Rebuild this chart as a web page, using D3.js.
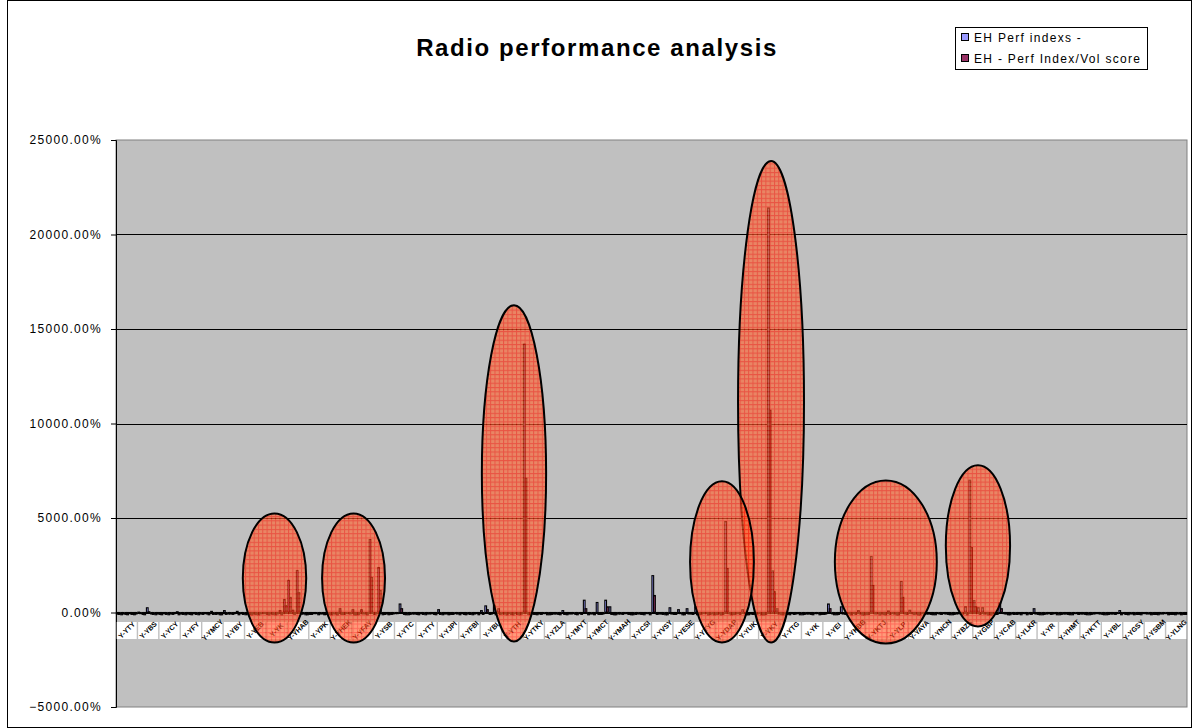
<!DOCTYPE html>
<html>
<head>
<meta charset="utf-8">
<script src="https://cdn.jsdelivr.net/npm/d3@7"></script>
<style>
  body { margin: 0; background: #ffffff; }
  svg { display: block; }
</style>
</head>
<body>
<svg id="chart" width="1194" height="728"></svg>
<script>
// ---- Data -------------------------------------------------------------
const seriesNames = ["EH Perf indexs -", "EH - Perf Index/Vol score"];

// 250 stations along the x axis; every fifth one carries a label
const categories = d3.range(250);

const tickLabels = [
  "Y-YTY","Y-YBS","Y-YCY","Y-YFY","Y-YMCY","Y-YBY","Y-YEB","Y-YK","Y-YHAB","Y-YPK",
  "Y-YHEK","Y-YFAY","Y-YSB","Y-YTC","Y-YTY","Y-YJPI","Y-YFBI","Y-YBI","Y-YTH","Y-YTKY",
  "Y-YZLA","Y-YMYT","Y-YMCT","Y-YMAH","Y-YCSI","Y-YVSY","Y-YESE","Y-YTYG","Y-YDAP","Y-YUK",
  "Y-YKY","Y-YTG","Y-YK","Y-YEI","Y-YKBB","Y-YKTJ","Y-YLP","Y-YAYA","Y-YNCN","Y-YBZS",
  "Y-YGBP","Y-YCAB","Y-YLKR","Y-YR","Y-YHMT","Y-YKTT","Y-YBL","Y-YGSY","Y-YSBM","Y-YLNG"
];

// EH Perf indexs (%)
const perfIndex = [
  -80,-120,-100,-60,-120,20,-100,250,-80,-120,
  -100,-60,-120,-100,40,-80,-120,-100,-60,-120,
  -100,-80,60,-100,-120,100,-80,-100,60,-60,
  -120,-100,-80,-120,-60,-100,-80,-120,100,690,
  1700,120,2220,-80,-120,-100,-60,-120,-80,-100,
  -120,-80,200,-100,-60,150,-120,150,-80,3860,
  -100,2380,-120,-80,-100,-60,450,-100,-120,-80,
  -100,-60,-120,-80,-100,150,-120,-80,-100,-60,
  -120,-100,-80,-120,-60,100,350,-100,380,200,
  -80,-120,-100,-60,-120,14200,-100,-80,-120,-100,
  -60,-120,-80,-100,100,-120,-80,-100,-60,650,
  -120,-80,530,-100,650,300,-120,-80,-100,-60,
  -120,-100,-80,-120,-60,1950,-100,-80,-120,250,
  -100,150,-120,200,-80,300,-100,-60,-120,-80,
  -100,-120,4810,-80,-100,-60,150,-120,-80,-100,
  -60,-120,21400,2200,200,-100,-80,-120,-100,-60,
  -120,-80,-100,-60,-120,-100,450,-80,-120,300,
  -100,-80,-60,100,-120,-100,2960,-80,-120,-100,
  80,-60,-120,1640,-80,120,-100,-120,-60,-80,
  -100,-120,-80,-60,-100,-120,-80,-100,300,7000,
  630,250,250,-80,-120,-100,500,-60,-120,-80,
  -100,-120,-60,-80,200,-100,-120,-80,-100,-60,
  -120,-80,-100,-120,-60,-80,-100,-120,-80,-60,
  -100,-120,-80,-100,100,-60,-120,-80,-100,-120,
  -60,-80,-100,-120,-80,-60,-100,-120,-80,-100
];

// EH - Perf Index/Vol score (%)
const volScore = [
  -100,-80,-120,-100,-80,-60,-120,40,-100,-80,
  -120,-100,-80,-60,-120,-100,-80,-120,-100,-80,
  -60,-120,-100,-80,-120,-100,-80,-60,-120,-100,
  -80,-120,-100,-80,-60,-120,-100,-80,-120,370,
  800,-100,1060,-80,-120,-100,-60,-80,-120,-100,
  -80,-120,-100,-60,-80,-120,-100,-80,-120,1850,
  -80,1160,-100,-120,-80,-60,200,-120,-100,-80,
  -120,-100,-80,-60,-120,-100,-80,-120,-100,-80,
  -60,-120,-100,-80,-120,-100,150,-80,-120,-100,
  -80,-60,-120,-100,-80,7100,-120,-100,-80,-60,
  -120,-100,-80,-120,-100,-80,-60,-120,-100,200,
  -80,-120,-100,-80,300,-100,-120,-80,-60,-100,
  -120,-80,-100,-60,-120,900,-80,-100,-120,-80,
  -100,-60,-120,-80,-100,-120,-80,-60,-100,-120,
  -80,-100,2330,-120,-80,-100,-60,-120,-100,-80,
  -120,-100,10700,1100,-80,-120,-100,-60,-80,-120,
  -100,-80,-120,-60,-100,-80,200,-120,-100,-80,
  -60,-120,-100,-80,-120,-100,1430,-60,-80,-120,
  -100,-80,-120,800,-100,-60,-80,-120,-100,-80,
  -120,-60,-100,-80,-120,-100,-60,-80,-120,3440,
  300,-100,-80,-120,-60,-100,200,-80,-120,-100,
  -80,-60,-120,-100,-80,-120,-100,-60,-80,-120,
  -100,-80,-120,-60,-100,-80,-120,-100,-60,-80,
  -120,-100,-80,-60,-120,-100,-80,-120,-100,-60,
  -80,-120,-100,-80,-60,-120,-100,-80,-120,-100
];

const yTicks = [-5000, 0, 5000, 10000, 15000, 20000, 25000];

// Highlighted groups of stations: category span (start, end) and value span (low, high)
const ringFrom  = [29.6, 48.1, 85.4, 145.2, 134.0, 167.8, 193.7];
const ringTo    = [44.4, 62.8, 100.4, 160.6, 148.9, 191.6, 208.7];
const ringLow   = [-1590, -1590, -1540, -1590, -1590, -1640, -740];
const ringHigh  = [5240, 5240, 16260, 23890, 6940, 6990, 7790];

// ---- Layout -----------------------------------------------------------
const svg = d3.select("#chart");
const W = 1194, H = 728;
const plot = { left: 116, right: 1187, top: 140, bottom: 707 };

const x = d3.scaleBand()
  .domain(categories)
  .range([plot.left, plot.right])
  .paddingInner(0.2)
  .paddingOuter(0.1);
const sub = d3.scaleBand().domain([0, 1]).range([0, x.bandwidth()]);
// continuous position along the category axis (category index -> px)
const xPos = d3.scaleLinear().domain([0, categories.length]).range([plot.left, plot.right]);

const y = d3.scaleLinear().domain([-5000, 25000]).range([plot.bottom, plot.top]);

const colors = ["#9999ff", "#993366"];
const font = "'Liberation Sans', Arial, sans-serif";

// chart frame
svg.append("rect")
  .attr("x", 7.5).attr("y", 0.5).attr("width", W - 10).attr("height", H - 1)
  .attr("fill", "#ffffff").attr("stroke", "#000000").attr("stroke-width", 1);

// hatched fill for highlighted groups
const defs = svg.append("defs");
const pat = defs.append("pattern")
  .attr("id", "hatch").attr("patternUnits", "userSpaceOnUse")
  .attr("width", 4.3).attr("height", 4.3);
pat.append("rect").attr("width", 4.3).attr("height", 4.3).attr("fill", "#ff6633");
pat.append("path").attr("d", "M0,0.5H4.3M0.5,0V4.3")
  .attr("stroke", "#ff1a00").attr("stroke-width", 1).attr("fill", "none");

// plot area
svg.append("rect")
  .attr("x", plot.left).attr("y", plot.top)
  .attr("width", plot.right - plot.left).attr("height", plot.bottom - plot.top)
  .attr("fill", "#c0c0c0").attr("stroke", "#808080").attr("stroke-width", 1);

// gridlines
svg.append("g").selectAll("line")
  .data(yTicks.filter(t => t > -5000 && t < 25000))
  .join("line")
  .attr("x1", plot.left).attr("x2", plot.right)
  .attr("y1", d => Math.round(y(d)) + 0.5).attr("y2", d => Math.round(y(d)) + 0.5)
  .attr("stroke", "#000000").attr("stroke-width", 1);

// y axis
const yAxis = d3.axisLeft(y)
  .tickValues(yTicks)
  .tickSize(5)
  .tickPadding(9)
  .tickFormat(d => d3.format(".2f")(d) + "%");
const gy = svg.append("g").attr("transform", `translate(${plot.left},0)`).call(yAxis);
gy.select(".domain").attr("stroke", "#000000");
gy.selectAll(".tick line").attr("stroke", "#000000");
gy.selectAll(".tick text")
  .attr("font-family", font).attr("font-size", 12).attr("letter-spacing", "1.3px")
  .attr("fill", "#000000");

// x category labels on white tabs, slanted at 45 degrees
const labelled = tickLabels.map((t, k) => ({ t, i: 2 + k * 5, cx: x(2 + k * 5) + x.bandwidth() / 2 }));
const gx = svg.append("g");
const tab = gx.selectAll("g")
  .data(labelled)
  .join("g")
  .attr("transform", d => `translate(${d.cx},630)`);
tab.append("rect")
  .attr("x", -10).attr("y", -8)
  .attr("width", 20).attr("height", 17)
  .attr("fill", "#ffffff");
tab.append("text")
  .attr("transform", "rotate(-45)")
  .attr("x", 0).attr("y", 2.5)
  .attr("text-anchor", "middle")
  .attr("font-family", font)
  .attr("font-size", 7)
  .attr("font-weight", "bold")
  .attr("fill", "#000000")
  .text(d => d.t);

// bars
const rows = categories.map((c, i) => ({ c, v: [perfIndex[i], volScore[i]] }));
const barG = svg.append("g");
barG.selectAll("g")
  .data(rows)
  .join("g")
  .attr("transform", d => `translate(${x(d.c)},0)`)
  .selectAll("rect")
  .data(d => d.v.map((v, s) => ({ v, s })))
  .join("rect")
  .attr("x", d => sub(d.s))
  .attr("width", sub.bandwidth())
  .attr("y", d => Math.min(y(d.v), y(0)))
  .attr("height", d => Math.abs(y(d.v) - y(0)))
  .attr("fill", d => colors[d.s])
  .attr("stroke", "#000000")
  .attr("stroke-width", 1.1);

// zero axis
svg.append("line")
  .attr("x1", plot.left).attr("x2", plot.right)
  .attr("y1", Math.round(y(0)) + 0.5).attr("y2", Math.round(y(0)) + 0.5)
  .attr("stroke", "#000000").attr("stroke-width", 1);

// highlight rings around the outlying stations
svg.append("g").selectAll("ellipse")
  .data(ringFrom.map((f, k) => ({ f, t: ringTo[k], lo: ringLow[k], hi: ringHigh[k] })))
  .join("ellipse")
  .attr("cx", d => (xPos(d.f) + xPos(d.t)) / 2)
  .attr("cy", d => (y(d.lo) + y(d.hi)) / 2)
  .attr("rx", d => (xPos(d.t) - xPos(d.f)) / 2)
  .attr("ry", d => (y(d.lo) - y(d.hi)) / 2)
  .attr("fill", "url(#hatch)")
  .attr("fill-opacity", 0.65)
  .attr("stroke", "#000000")
  .attr("stroke-width", 2);

// title
svg.append("text")
  .attr("x", 597).attr("y", 56)
  .attr("text-anchor", "middle")
  .attr("font-family", font)
  .attr("font-size", 24)
  .attr("font-weight", "bold")
  .attr("letter-spacing", "1.6px")
  .attr("fill", "#000000")
  .text("Radio performance analysis");

// legend
const lg = svg.append("g").attr("transform", "translate(955,27)");
lg.append("rect").attr("x", 0.5).attr("y", 0.5).attr("width", 192).attr("height", 42)
  .attr("fill", "#ffffff").attr("stroke", "#000000").attr("stroke-width", 1);
seriesNames.forEach((n, k) => {
  lg.append("rect").attr("x", 6.5).attr("y", 6.5 + k * 21).attr("width", 7).attr("height", 7)
    .attr("fill", colors[k]).attr("stroke", "#000000").attr("stroke-width", 1);
  lg.append("text").attr("x", 19).attr("y", 14.5 + k * 21)
    .attr("font-family", font).attr("font-size", 12).attr("letter-spacing", "1.3px")
    .attr("fill", "#000000")
    .text(n);
});
</script>
</body>
</html>
